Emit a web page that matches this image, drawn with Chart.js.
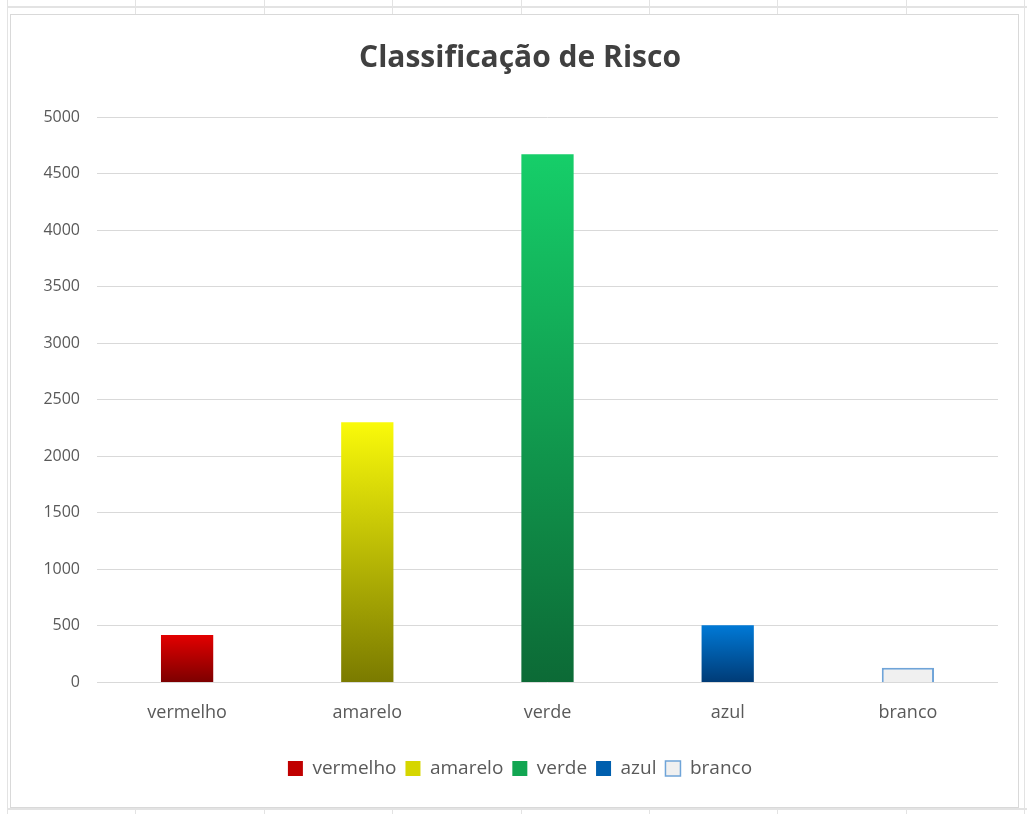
<!DOCTYPE html>
<html>
<head>
<meta charset="utf-8">
<title>Classificação de Risco</title>
<script src="https://cdn.jsdelivr.net/npm/chart.js@4"></script>
<style>
  html, body { margin: 0; padding: 0; background: #fff; }
  #sheet {
    position: relative;
    width: 1027px;
    height: 814px;
    overflow: hidden;
    background: #fff;
  }
  /* linhas da planilha atrás do gráfico */
  .hline { position: absolute; left: 7px; right: 0; height: 2px; background: #e3e3e3; }
  .vline { position: absolute; top: 0; bottom: 0; width: 1px; background: #e3e3e3; }
  #box {
    position: absolute;
    left: 10px;
    top: 14px;
    width: 1007px;
    height: 792px;
    border: 1px solid #d9d9d9;
    background: #fff;
  }
</style>
</head>
<body>
<div id="sheet">
  <div class="hline" style="top:6px"></div>
  <div class="hline" style="top:808px"></div>
  <div class="vline" style="left:7px"></div>
  <div class="vline" style="left:135px"></div>
  <div class="vline" style="left:264px"></div>
  <div class="vline" style="left:392px"></div>
  <div class="vline" style="left:521px"></div>
  <div class="vline" style="left:649px"></div>
  <div class="vline" style="left:777px"></div>
  <div class="vline" style="left:906px"></div>
  <div class="vline" style="left:1024px"></div>
  <div id="box"><canvas id="riscoChart"></canvas></div>
</div>
<script>
// categorias (eixo X) e valores
const categorias = ['vermelho', 'amarelo', 'verde', 'azul', 'branco'];
const valores = [420, 2300, 4670, 505, 130];

// escala do eixo Y
const yMin = 0;
const yMax = 5000;
const yPasso = 500;

// cores do degradê: topo -> base
const corTopo = ['#e30000', '#fafa0a', '#16ce69', '#0079d6', '#f0f0f0'];
const corBase = ['#7c0000', '#7a7a00', '#0c6a36', '#003b76', '#f0f0f0'];
const corLegenda = ['#c00000', '#d6d600', '#12a652', '#005fae', '#f0f0f0'];
const corBorda = ['#e30000', '#e8e800', '#16ce69', '#0079d6', '#6fa4d8'];

function degrade(context) {
    const chart = context.chart;
    const i = context.dataIndex;
    if (!chart.chartArea || i === undefined) return corLegenda[i] || corLegenda[0];
    const y = chart.scales.y;
    const topo = y.getPixelForValue(context.raw);
    const base = y.getPixelForValue(0);
    const g = chart.ctx.createLinearGradient(0, topo, 0, base);
    g.addColorStop(0, corTopo[i]);
    g.addColorStop(1, corBase[i]);
    return g;
}

const ctx = document.getElementById('riscoChart').getContext('2d');

new Chart(ctx, {
    type: 'bar',
    data: {
        labels: categorias,
        datasets: [{
            label: 'Classificação de Risco',
            data: valores,
            backgroundColor: degrade,
            borderColor: (c) => corBorda[c.dataIndex] || '#999',
            borderWidth: (c) => c.dataIndex === 4 ? 2 : 0,
            borderSkipped: 'bottom',
            categoryPercentage: 1,
            barPercentage: 0.29
        }]
    },
    options: {
        responsive: true,
        maintainAspectRatio: false,
        animation: false,
        layout: {
            // esquerda maior para centralizar título e legenda como no Excel
            padding: { top: 10, right: 20, bottom: 19, left: 31 }
        },
        plugins: {
            title: {
                display: true,
                text: 'Classificação de Risco',
                color: '#404040',
                font: { family: 'Open Sans', size: 30, weight: 'bold' },
                padding: { top: 15, bottom: 41 }
            },
            legend: {
                position: 'bottom',
                labels: {
                    color: '#595959',
                    font: { family: 'Open Sans', size: 19 },
                    boxWidth: 15,
                    boxHeight: 15,
                    padding: 9,
                    generateLabels: () => categorias.map((nome, i) => ({
                        text: nome,
                        fillStyle: corLegenda[i],
                        strokeStyle: i === 4 ? '#6fa4d8' : corLegenda[i],
                        lineWidth: i === 4 ? 1.5 : 0,
                        fontColor: '#595959',
                        hidden: false,
                        index: i
                    }))
                },
                onClick: null
            },
            tooltip: { enabled: false }
        },
        scales: {
            x: {
                afterFit: (axis) => { axis.height = axis.height + 6; },
                grid: { display: false, drawTicks: false },
                border: { display: false },
                ticks: {
                    color: '#595959',
                    font: { family: 'Open Sans', size: 18 },
                    padding: 20
                }
            },
            y: {
                min: yMin,
                max: yMax,
                afterFit: (axis) => { axis.width = 55; },
                grid: { color: '#d9d9d9', lineWidth: 1, drawTicks: false },
                border: { display: false },
                ticks: {
                    stepSize: yPasso,
                    color: '#595959',
                    font: { family: 'Open Sans', size: 16 },
                    padding: 17,
                    callback: (v) => String(v)
                }
            }
        }
    }
});
</script>
</body>
</html>
